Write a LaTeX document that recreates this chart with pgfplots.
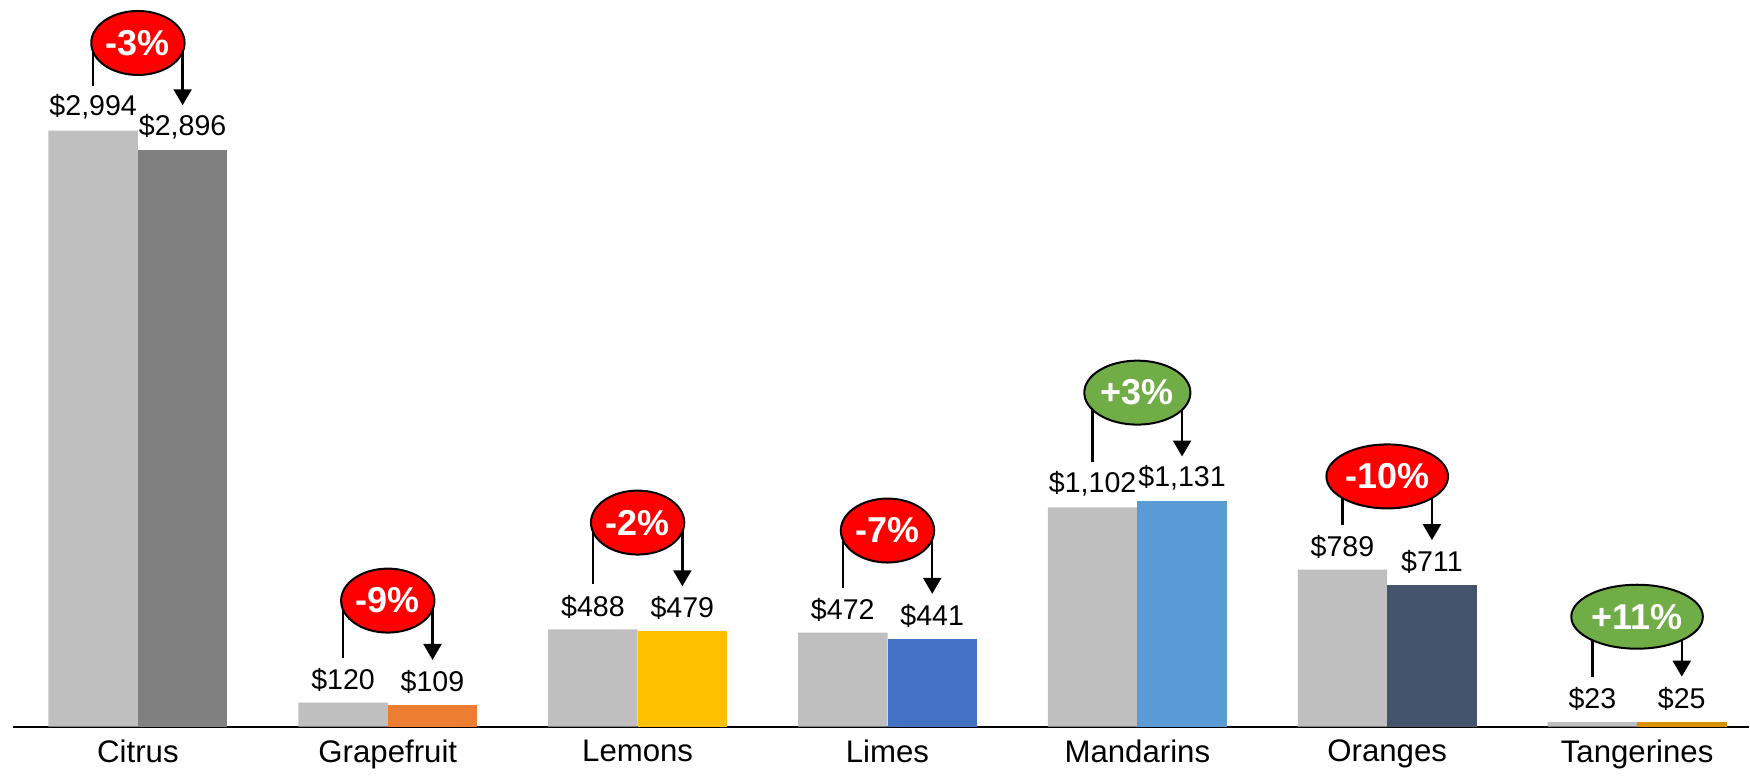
\documentclass[border=0pt]{standalone}
\usepackage{fontspec}
\setmainfont{Liberation Sans}
\usepackage{pgfplots}
\pgfplotsset{compat=1.18}
\usetikzlibrary{shapes.geometric,arrows.meta}

\definecolor{barGray}{RGB}{191,191,191}
\definecolor{cCitrus}{RGB}{128,128,128}
\definecolor{cGrape}{RGB}{237,125,49}
\definecolor{cLemon}{RGB}{255,192,0}
\definecolor{cLime}{RGB}{68,114,196}
\definecolor{cMand}{RGB}{91,155,213}
\definecolor{cOrange}{RGB}{68,84,106}
\definecolor{cTang}{RGB}{214,146,0}
\definecolor{downRed}{RGB}{255,0,0}
\definecolor{upGreen}{RGB}{112,173,71}

% change badge: centre x, left x, right x, left end, right end, badge y, colour, text
\newcommand{\chg}[8]{%
  \draw[line width=1.2pt] (axis cs:#2,#6) -- (axis cs:#2,#4);
  \draw[line width=1.2pt,-{Triangle[width=9pt,length=8pt]}] (axis cs:#3,#6) -- (axis cs:#3,#5);
  \node[ellipse,draw=black,line width=1pt,fill=#7,text=white,
        font=\bfseries\fontsize{18}{20}\selectfont,
        inner xsep=0.5pt,inner ysep=0pt,minimum height=32pt]
        at (axis cs:#1,#6) {#8};
}

\pgfplotsset{
  prev/.style={ybar, bar width=44.75pt, bar shift=-22.375pt, draw=none,
    every node near coord/.append style={xshift=-22.375pt}},
  curr/.style={ybar, bar width=44.75pt, bar shift=22.375pt, draw=none,
    every node near coord/.append style={xshift=22.375pt}},
}

\begin{document}
\begin{tikzpicture}
\begin{axis}[
  scale only axis,
  width=868.5pt, height=363.5pt,
  xmin=-0.5, xmax=6.448, ymin=0, ymax=3651,
  clip=false,
  axis x line=bottom, axis y line=none,
  x axis line style={-, line width=1pt, black},
  ytick=\empty,
  xtick={0,...,6},
  xticklabels={Citrus,Grapefruit,Lemons,Limes,Mandarins,Oranges,Tangerines},
  major tick length=0pt,
  xticklabel style={font=\fontsize{15.6}{18}\selectfont, yshift=-3pt},
  nodes near coords={\$\pgfmathprintnumber{\pgfplotspointmeta}},
  every node near coord/.append style={font=\fontsize{14.3}{16}\selectfont, text=black, inner sep=5.5pt},
  /pgf/number format/.cd, fixed, precision=0, 1000 sep={,}, assume math mode=true,
]
% prior period (grey)
\addplot[prev, fill=barGray]
  coordinates {(0,2994) (1,120) (2,488) (3,472) (4,1102) (5,789) (6,23)};
% current period, one colour per fruit
\addplot[curr, fill=cCitrus] coordinates {(0,2896)};
\addplot[curr, fill=cGrape] coordinates {(1,109)};
\addplot[curr, fill=cLemon] coordinates {(2,479)};
\addplot[curr, fill=cLime] coordinates {(3,441)};
\addplot[curr, fill=cMand] coordinates {(4,1131)};
\addplot[curr, fill=cOrange] coordinates {(5,711)};
\addplot[curr, fill=cTang] coordinates {(6,25)};

\chg{0}{-0.179}{0.179}{3220}{3122}{3435}{downRed}{-3\%}
\chg{1}{0.821}{1.179}{346}{335}{633}{downRed}{-9\%}
\chg{2}{1.821}{2.179}{714}{705}{1025}{downRed}{-2\%}
\chg{3}{2.821}{3.179}{698}{667}{985}{downRed}{-7\%}
\chg{4}{3.821}{4.179}{1328}{1357}{1678}{upGreen}{+3\%}
\chg{5}{4.821}{5.179}{1015}{937}{1257}{downRed}{-10\%}
\chg{6}{5.821}{6.179}{249}{251}{552}{upGreen}{+11\%}

\path (axis cs:-0.552,-246) rectangle (axis cs:6.448,3651);
\end{axis}
\end{tikzpicture}
\end{document}
